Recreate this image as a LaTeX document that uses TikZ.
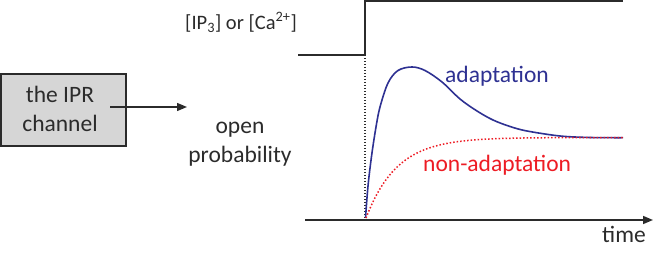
\documentclass[tikz,border=0pt]{standalone}
\usepackage{fontspec}
\setmainfont{Carlito}
\usetikzlibrary{arrows.meta}
\definecolor{navy}{HTML}{2E3192}
\definecolor{redc}{HTML}{ED1C24}
\definecolor{dk}{HTML}{2B2B2B}
\definecolor{boxfill}{HTML}{D6D6D6}
\tikzset{
  lbl/.style={font=\fontsize{23.5}{29}\selectfont, inner sep=0pt, text=dk},
  tip/.style={-{Triangle[length=10pt,width=8pt]}},
}
\begin{document}
\begin{tikzpicture}[x=1pt,y=-1pt]
\useasboundingbox (0,0) rectangle (664,253);
% box
\node[draw=dk, line width=1.5pt, fill=boxfill, minimum width=125pt, minimum height=72pt, inner sep=0pt] (box) at (63.5,110) {};
\node[lbl, align=center, anchor=base] (boxtxt) at (60,131.7) {the IPR\\channel};
\coordinate (aS) at (110,107);
\coordinate (aE) at (187,107);
\draw[line width=1.3pt, dk, tip] (aS) -- (aE);
% open probability
\node[lbl, align=center, anchor=base] (op) at (240,162.5) {open\\probability};
% stimulus step
\coordinate (s0) at (298,55);
\coordinate (s1) at (365,55);
\coordinate (s2) at (365,1);
\coordinate (s3) at (623,1);
\draw[line width=2pt, dk] (s0) -- (s1) -- (s2) -- (s3);
\node[lbl, anchor=base east, font=\fontsize{20.5}{24}\selectfont] (stim) at (297,29.5) {[IP\textsubscript{3}] or [Ca\textsuperscript{2+}]};
% axis
\coordinate (t0) at (365,218);
\coordinate (x0) at (305,220);
\coordinate (x1) at (653,220);
\draw[line width=1.4pt, dk, dash pattern=on 1.3pt off 1.7pt] (s1) -- (t0);
\draw[line width=1.5pt, dk, tip] (x0) -- (x1);
\node[lbl, anchor=base west] (time) at (602,243) {time};
% curves
\draw[navy, line width=1.6pt] plot[smooth, tension=0.55] coordinates {(365.5,218) (368,186) (371.7,155) (376,127) (380,107) (388,83) (398,70.5) (412,67) (425,70.5) (442,82) (460,99) (477,111) (493,120) (510,126.5) (527,131) (560,136) (590,137.5) (623,137.7)};
\draw[redc, line width=1.5pt, dash pattern=on 1.5pt off 2pt] plot[domain=0:258, samples=80] ({366+\x},{218-80.5*(1-exp(-\x/31))});
\node[lbl, anchor=base west, text=navy] (adp) at (445,83) {adaptation};
\node[lbl, anchor=base west, text=redc] (nadp) at (423,172) {non-adaptation};
\end{tikzpicture}
\end{document}
